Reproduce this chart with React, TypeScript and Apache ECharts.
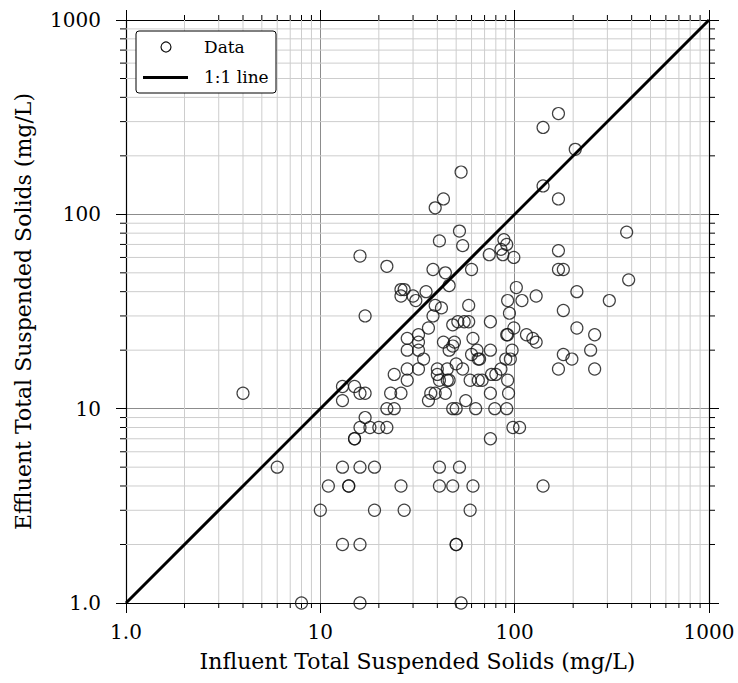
import React, { useEffect, useRef } from "react";
import * as echarts from "echarts";

// Influent / effluent TSS (mg/L)
const influentTSS: number[] = [
  52, 41, 54, 16, 22, 38, 44, 60, 46, 26, 27, 26, 30, 31, 35, 39, 42, 58, 17, 38,
  36, 48, 51, 55, 58, 32, 28, 61, 32, 43, 49, 48, 46, 28, 32, 34, 60, 64, 65, 66,
  28, 32, 24, 40, 45, 50, 54, 40, 41, 45, 46, 28, 59, 65, 68, 13, 15, 16, 17, 23,
  26, 37, 39, 44, 13, 36, 56, 22, 24, 48, 50, 63, 17,
  16, 18, 20, 22, 15, 15, 98, 106, 75, 41, 52, 6, 13, 16, 19, 26, 41, 48, 61, 140,
  11, 14, 14, 10, 19, 27, 59, 50, 50, 13, 16, 8, 16, 53, 4,
  168, 140, 205, 53, 140, 43, 39, 168, 88, 91, 85, 87, 74, 99, 168, 168, 178, 377, 386, 102,
  129, 209, 307, 92, 109,
  178, 209, 258, 124, 129, 246, 178, 197, 168, 258,
  75, 94, 75, 92, 91, 99, 115, 97, 90, 95, 85, 80, 76, 92, 75, 93, 79, 91,
];
const effluentTSS: number[] = [
  82, 73, 69, 61, 54, 52, 50, 52, 43, 41, 41, 38, 38, 36, 40, 34, 33, 34, 30, 30,
  26, 27, 28, 28, 28, 24, 23, 23, 22, 22, 22, 21, 20, 20, 20, 18, 19, 20, 18, 18,
  16, 16, 15, 16, 16, 17, 16, 15, 14, 14, 14, 14, 14, 14, 14, 13, 13, 12, 12, 12,
  12, 12, 12, 12, 11, 11, 11, 10, 10, 10, 10, 10, 9,
  8, 8, 8, 8, 7, 7, 8, 8, 7, 5, 5, 5, 5, 5, 5, 4, 4, 4, 4, 4,
  4, 4, 4, 3, 3, 3, 3, 2, 2, 2, 2, 1, 1, 1, 12,
  330, 280, 216, 165, 140, 120, 108, 120, 74, 70, 66, 62, 62, 60, 65, 52, 52, 81, 46, 42,
  38, 40, 36, 36, 36,
  32, 26, 24, 23, 22, 20, 19, 18, 16, 16,
  28, 31, 20, 24, 24, 26, 24, 20, 18, 18, 16, 15, 15, 14, 12, 12, 10, 10,
];
const oneToOneX: number[] = [1, 1000];
const oneToOneY: number[] = [1, 1000];
const majorTicks: number[] = [1, 10, 100, 1000];
const tickLabels: string[] = ["1.0", "10", "100", "1000"];
const minorValues: number[] = [
  2, 3, 4, 5, 6, 7, 8, 9, 20, 30, 40, 50, 60, 70, 80, 90, 200, 300, 400, 500, 600, 700, 800, 900,
];
const xTitle = "Influent Total Suspended Solids (mg/L)";
const yTitle = "Effluent Total Suspended Solids (mg/L)";
const legendNames = ["Data", "1:1 line"];

const FONT = "DejaVu Serif";

function fmt(v: number): string {
  const i = Math.round(Math.log10(v));
  const idx = majorTicks.findIndex((t) => Math.round(Math.log10(t)) === i);
  return idx >= 0 ? tickLabels[idx] : "";
}

export default function App() {
  const ref = useRef<HTMLDivElement>(null);
  useEffect(() => {
    if (!ref.current) return;
    const chart = echarts.init(ref.current, undefined, { renderer: "svg" });
    const points = influentTSS.map((x, i) => [x, effluentTSS[i]]);
    const lineData = oneToOneX.map((x, i) => [x, oneToOneY[i]]);
    const majorGrid = { show: true, lineStyle: { color: "#8c8c8c", width: 1 } };
    const baseAxis = {
      type: "log" as const,
      logBase: 10,
      min: majorTicks[0],
      max: majorTicks[majorTicks.length - 1],
      axisLine: { show: true, onZero: false, lineStyle: { color: "#000", width: 1.2 } },
      axisTick: { show: true, inside: false, length: 10, lineStyle: { color: "#000", width: 1 } },
      minorTick: { show: false },
      minorSplitLine: { show: false },
    };
    chart.setOption({
      animation: false,
      backgroundColor: "#fff",
      grid: { left: 126, right: 29, top: 20, bottom: 80, containLabel: false },
      xAxis: [
        {
          ...baseAxis,
          position: "bottom",
          name: xTitle,
          nameLocation: "middle",
          nameGap: 47,
          nameTextStyle: { fontFamily: FONT, fontSize: 22, color: "#000" },
          axisLabel: { formatter: fmt, fontFamily: FONT, fontSize: 20, color: "#000", margin: 19 },
          splitLine: majorGrid,
        },
        {
          ...baseAxis,
          position: "top",
          axisLabel: { show: false },
          splitLine: { show: false },
        },
      ],
      yAxis: [
        {
          ...baseAxis,
          position: "left",
          name: yTitle,
          nameLocation: "middle",
          nameGap: 92,
          nameTextStyle: { fontFamily: FONT, fontSize: 22, color: "#000" },
          axisLabel: { formatter: fmt, fontFamily: FONT, fontSize: 20, color: "#000", margin: 25 },
          splitLine: majorGrid,
        },
        {
          ...baseAxis,
          position: "right",
          axisLabel: { show: false },
          splitLine: { show: false },
        },
      ],
      series: [
        {
          type: "custom",
          silent: true,
          xAxisIndex: 0,
          yAxisIndex: 0,
          z: 1,
          clip: false,
          data: minorValues.map((v) => [v, v]),
          renderItem: (params: any, api: any) => {
            const v = api.value(0);
            const b = api.coord([v, 1]);
            const t = api.coord([v, 1000]);
            const l = api.coord([1, v]);
            const r = api.coord([1000, v]);
            const g = { stroke: "#cdcdcd", lineWidth: 1 };
            const k = { stroke: "#000", lineWidth: 1 };
            return {
              type: "group",
              children: [
                { type: "line", shape: { x1: b[0], y1: b[1], x2: t[0], y2: t[1] }, style: g },
                { type: "line", shape: { x1: l[0], y1: l[1], x2: r[0], y2: r[1] }, style: g },
                { type: "line", shape: { x1: b[0], y1: b[1], x2: b[0], y2: b[1] + 5 }, style: k },
                { type: "line", shape: { x1: t[0], y1: t[1], x2: t[0], y2: t[1] - 5 }, style: k },
                { type: "line", shape: { x1: l[0], y1: l[1], x2: l[0] - 6, y2: l[1] }, style: k },
                { type: "line", shape: { x1: r[0], y1: r[1], x2: r[0] + 6, y2: r[1] }, style: k },
              ],
            };
          },
        },
        {
          name: legendNames[0],
          type: "scatter",
          z: 3,
          symbol: "circle",
          symbolSize: 12,
          itemStyle: { color: "rgba(0,0,0,0)", borderColor: "#111", borderWidth: 1.2 },
          data: points,
        },
        {
          name: legendNames[1],
          type: "line",
          z: 4,
          showSymbol: false,
          lineStyle: { color: "#000", width: 3 },
          data: lineData,
        },
      ],
      graphic: [
        {
          type: "rect",
          z: 100,
          shape: { x: 136, y: 31, width: 140, height: 62, r: 3 },
          style: { fill: "#fff", stroke: "#000", lineWidth: 1 },
        },
        {
          type: "circle",
          z: 101,
          shape: { cx: 166, cy: 47, r: 5 },
          style: { fill: "none", stroke: "#111", lineWidth: 1.2 },
        },
        {
          type: "line",
          z: 101,
          shape: { x1: 143, y1: 77.5, x2: 188, y2: 77.5 },
          style: { stroke: "#000", lineWidth: 3 },
        },
        {
          type: "text",
          z: 101,
          x: 204,
          y: 47,
          style: { text: legendNames[0], fontFamily: FONT, fontSize: 17, fill: "#000", verticalAlign: "middle" },
        },
        {
          type: "text",
          z: 101,
          x: 204,
          y: 77,
          style: { text: legendNames[1], fontFamily: FONT, fontSize: 17, fill: "#000", verticalAlign: "middle" },
        },
      ],
    });
    return () => chart.dispose();
  }, []);
  return <div ref={ref} style={{ position: "fixed", left: 0, top: 0, width: 738, height: 683 }} />;
}
